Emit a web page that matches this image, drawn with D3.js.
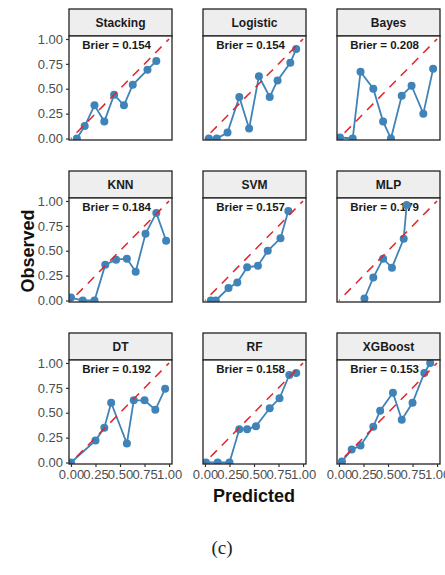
<!DOCTYPE html>
<html>
<head>
<meta charset="utf-8">
<script src="https://cdn.jsdelivr.net/npm/d3@7"></script>
<style>
  body { margin: 0; background: white; }
  text { font-family: "Liberation Sans", Arial, sans-serif; }
</style>
</head>
<body>
<script>
// model names, in facet order
var models = ["Stacking", "Logistic", "Bayes", "KNN", "SVM", "MLP", "DT", "RF", "XGBoost"];
var brier = ["0.154", "0.154", "0.208", "0.184", "0.157", "0.179", "0.192", "0.158", "0.153"];

// mean predicted probability per bin
var predicted = [
  [0.06, 0.14, 0.24, 0.34, 0.44, 0.54, 0.63, 0.78, 0.87],
  [0.04, 0.12, 0.23, 0.35, 0.45, 0.55, 0.66, 0.74, 0.87, 0.93],
  [0.01, 0.14, 0.22, 0.35, 0.45, 0.53, 0.64, 0.74, 0.86, 0.96],
  [0.00, 0.12, 0.24, 0.35, 0.46, 0.57, 0.66, 0.76, 0.87, 0.97],
  [0.06, 0.11, 0.24, 0.33, 0.43, 0.54, 0.64, 0.77, 0.85],
  [0.26, 0.35, 0.45, 0.54, 0.66, 0.69],
  [0.00, 0.25, 0.34, 0.41, 0.57, 0.64, 0.75, 0.86, 0.96],
  [0.01, 0.13, 0.25, 0.35, 0.43, 0.52, 0.66, 0.76, 0.86, 0.93],
  [0.03, 0.13, 0.22, 0.35, 0.42, 0.55, 0.64, 0.75, 0.87, 0.93]
];

// observed fraction of positives per bin
var observed = [
  [0.00, 0.125, 0.333, 0.17, 0.44, 0.333, 0.54, 0.69, 0.78],
  [0.00, 0.00, 0.06, 0.417, 0.10, 0.625, 0.417, 0.583, 0.76, 0.90],
  [0.01, 0.00, 0.67, 0.50, 0.17, 0.00, 0.43, 0.53, 0.25, 0.70],
  [0.03, 0.00, 0.00, 0.36, 0.41, 0.42, 0.29, 0.67, 0.88, 0.60],
  [0.00, 0.00, 0.125, 0.18, 0.333, 0.35, 0.50, 0.625, 0.90],
  [0.02, 0.23, 0.42, 0.33, 0.62, 0.96],
  [0.00, 0.22, 0.35, 0.60, 0.19, 0.625, 0.625, 0.53, 0.74],
  [0.00, 0.00, 0.00, 0.333, 0.333, 0.365, 0.545, 0.645, 0.88, 0.90],
  [0.01, 0.13, 0.17, 0.36, 0.52, 0.70, 0.43, 0.60, 0.90, 1.00]
];

var ticks = [0, 0.25, 0.5, 0.75, 1];
var tickLabels = ["0.00", "0.25", "0.50", "0.75", "1.00"];

var screen = {width: 445, height: 575};
var colLeft = [69, 203, 337];
var stripTop = [9, 171, 333];
var panelW = 103, stripH = 27, panelH = 104;

var blue = "#3f83b8";

var svg = d3.select("body")
            .append("svg")
            .attr("width", screen.width)
            .attr("height", screen.height);

models.forEach(function(name, i) {
  var col = i % 3, row = Math.floor(i / 3);
  var left = colLeft[col];
  var top = stripTop[row] + stripH;

  var x = d3.scaleLinear().domain([-0.02, 1.03]).range([left, left + panelW]);
  var y = d3.scaleLinear().domain([-0.015, 1.03]).range([top + panelH, top]);

  var g = svg.append("g").attr("class", "facet");

  // strip
  g.append("rect")
   .attr("x", left)
   .attr("y", stripTop[row])
   .attr("width", panelW)
   .attr("height", stripH)
   .attr("fill", "#eeeeee")
   .attr("stroke", "#222")
   .attr("stroke-width", 1.3);

  g.append("text")
   .attr("x", left + panelW / 2)
   .attr("y", stripTop[row] + stripH / 2 + 4)
   .attr("text-anchor", "middle")
   .attr("font-size", "12px")
   .attr("font-weight", "bold")
   .attr("fill", "#1a1a1a")
   .text(name);

  // clip to panel
  g.append("clipPath")
   .attr("id", "clip" + i)
   .append("rect")
   .attr("x", left)
   .attr("y", top)
   .attr("width", panelW)
   .attr("height", panelH);

  g.append("rect")
   .attr("x", left)
   .attr("y", top)
   .attr("width", panelW)
   .attr("height", panelH)
   .attr("fill", "white");

  var inner = g.append("g").attr("clip-path", "url(#clip" + i + ")");

  inner.append("text")
       .attr("x", x(0.465))
       .attr("y", y(0.9))
       .attr("text-anchor", "middle")
       .attr("font-size", "11.5px")
       .attr("font-weight", "bold")
       .attr("fill", "#1a1a1a")
       .text("Brier = " + brier[i]);

  var pts = predicted[i].map(function(p, j) { return [p, observed[i][j]]; });

  var line = d3.line()
               .x(function(d) { return x(d[0]); })
               .y(function(d) { return y(d[1]); });

  inner.append("path")
       .attr("d", line(pts))
       .attr("fill", "none")
       .attr("stroke", blue)
       .attr("stroke-width", 1.8);

  inner.selectAll("circle")
       .data(pts)
       .enter()
       .append("circle")
       .attr("cx", function(d) { return x(d[0]); })
       .attr("cy", function(d) { return y(d[1]); })
       .attr("r", 4)
       .attr("fill", blue);

  // perfect calibration
  inner.append("line")
       .attr("x1", x(0))
       .attr("y1", y(0))
       .attr("x2", x(1))
       .attr("y2", y(1))
       .attr("stroke", "#e2242b")
       .attr("stroke-width", 1.5)
       .attr("stroke-dasharray", "9,7")
       .attr("stroke-dashoffset", -8);

  g.append("rect")
   .attr("x", left)
   .attr("y", top)
   .attr("width", panelW)
   .attr("height", panelH)
   .attr("fill", "none")
   .attr("stroke", "#222")
   .attr("stroke-width", 1.3);

  // y axis only on first column
  if (col == 0) {
    var yAxis = d3.axisLeft(y)
                  .tickValues(ticks)
                  .tickFormat(function(d, k) { return tickLabels[k]; })
                  .tickSize(3)
                  .tickPadding(3);
    var ya = svg.append("g")
                .attr("transform", "translate(" + left + ",0)")
                .call(yAxis);
    ya.select(".domain").remove();
    ya.selectAll("line").attr("stroke", "#333").attr("stroke-width", 1.2);
    ya.selectAll("text")
      .attr("font-size", "13px")
      .attr("fill", "#4d4d4d")
      .style("font-family", "Liberation Sans, Arial, sans-serif");
  }

  // x axis only on bottom row
  if (row == 2) {
    var xAxis = d3.axisBottom(x)
                  .tickValues(ticks)
                  .tickFormat(function(d, k) { return tickLabels[k]; })
                  .tickSize(3)
                  .tickPadding(3);
    var xa = svg.append("g")
                .attr("transform", "translate(0," + (top + panelH) + ")")
                .call(xAxis);
    xa.select(".domain").remove();
    xa.selectAll("line").attr("stroke", "#333").attr("stroke-width", 1.2);
    xa.selectAll("text")
      .attr("font-size", "13px")
      .attr("fill", "#4d4d4d")
      .style("font-family", "Liberation Sans, Arial, sans-serif");
  }
});

// axis titles
svg.append("text")
   .attr("x", 254)
   .attr("y", 502)
   .attr("text-anchor", "middle")
   .attr("font-size", "18px")
   .attr("font-weight", "bold")
   .attr("fill", "#111")
   .text("Predicted");

svg.append("text")
   .attr("transform", "translate(34,251) rotate(-90)")
   .attr("text-anchor", "middle")
   .attr("font-size", "18px")
   .attr("font-weight", "bold")
   .attr("fill", "#111")
   .text("Observed");

svg.append("text")
   .attr("x", 222)
   .attr("y", 554)
   .attr("text-anchor", "middle")
   .attr("font-size", "19px")
   .attr("fill", "#222")
   .style("font-family", "Liberation Serif, serif")
   .text("(c)");
</script>
</body>
</html>
